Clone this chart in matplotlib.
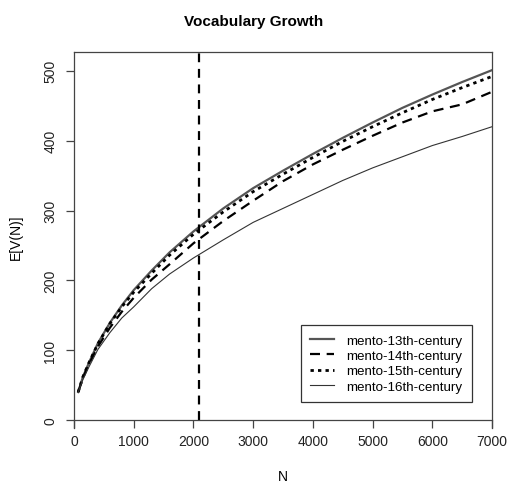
import matplotlib
matplotlib.use("Agg")
import matplotlib.pyplot as plt

plt.rcParams['font.family'] = ['Liberation Sans', 'DejaVu Sans']

N = [70, 150, 250, 400, 600, 800, 1000, 1300, 1600, 2000, 2500, 3000,
     3500, 4000, 4500, 5000, 5500, 6000, 6500, 7000]
v13 = [40, 62, 82, 110, 139, 164, 186, 214, 240, 270, 303, 332,
       357, 381, 404, 426, 447, 466, 484, 501]
v14 = [40, 60, 80, 105, 132, 155, 175, 201, 223, 253, 285, 314,
       342, 366, 387, 407, 426, 442, 452, 470]
v15 = [40, 62, 82, 109, 138, 162, 183, 210, 236, 266, 298, 327,
       352, 376, 399, 420, 440, 459, 476, 492]
v16 = [40, 58, 76, 101, 125, 146, 162, 188, 209, 232, 258, 283,
       303, 323, 343, 361, 377, 393, 406, 420]
labels = ["mento-13th-century", "mento-14th-century",
          "mento-15th-century", "mento-16th-century"]
vline_N = 2090
xticks = [0, 1000, 2000, 3000, 4000, 5000, 6000, 7000]
yticks = [0, 100, 200, 300, 400, 500]

fig = plt.figure(figsize=(5.08, 4.85), dpi=100)
ax = fig.add_axes([74/508, 1-421/485, 418/508, 368/485])

ax.plot(N, v13, color='#555555', lw=1.6, ls='-', label=labels[0])
ax.plot(N, v14, color='black', lw=1.6, ls=(0, (4.5, 3)), label=labels[1])
ax.plot(N, v15, color='black', lw=2.0, ls=(0, (1.2, 1.5)), label=labels[2])
ax.plot(N, v16, color='#333333', lw=0.8, ls='-', label=labels[3])
ax.axvline(vline_N, color='black', lw=1.6, ls=(0, (4, 3)))

ax.set_xlim(0, 7000)
ax.set_ylim(0, 527)
ax.set_xticks(xticks)
ax.set_yticks(yticks)
ax.set_xticklabels([str(t) for t in xticks], fontsize=10, color='#222222')
ax.set_yticklabels([str(t) for t in yticks], fontsize=10, color='#222222',
                   rotation=90, va='center')
ax.tick_params(axis='both', direction='out', length=6, width=0.9,
               color='#444444', pad=6)
ax.tick_params(axis='x', pad=4)
for s in ax.spines.values():
    s.set_color('#444444')
    s.set_linewidth(0.9)
ax.spines['left'].set_bounds(-12, 527)
ax.spines['right'].set_bounds(-12, 527)

fig.text(283/508, 1-477/485, "N", ha='center', va='center', fontsize=10)
ax.set_ylabel("E[V(N)]", fontsize=10, labelpad=15)
fig.text(0.5, 1-22/485, "Vocabulary Growth", ha='center', va='center',
         fontsize=11, fontweight='bold')

leg = ax.legend(loc='lower right', bbox_to_anchor=(0.952, 0.049),
                borderaxespad=0, fontsize=9.6, frameon=True, fancybox=False,
                edgecolor='black', handlelength=1.8, handletextpad=0.9,
                labelspacing=0.22, borderpad=0.7)
leg.get_frame().set_linewidth(0.9)

fig.savefig("out.png", dpi=100)
